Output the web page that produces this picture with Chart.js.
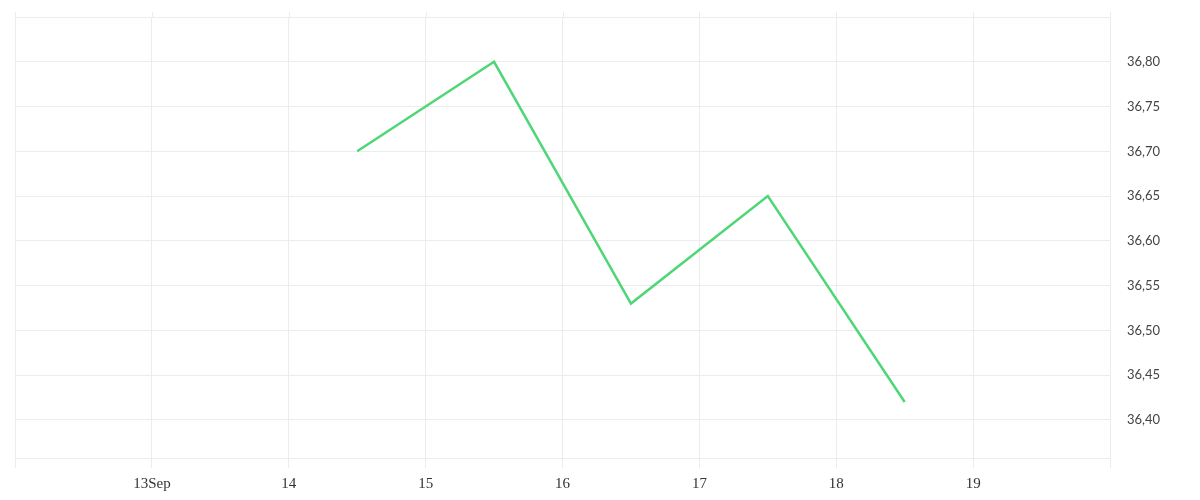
<!DOCTYPE html>
<html>
<head>
<meta charset="utf-8">
<script src="https://cdn.jsdelivr.net/npm/chart.js@4"></script>
<style>
  html, body { margin: 0; padding: 0; background: #fff; }
  #wrap { width: 1200px; height: 500px; }
</style>
</head>
<body>
<div id="wrap"><canvas id="chart"></canvas></div>
<script>
// days of September (noon readings)
const days = [14.5, 15.5, 16.5, 17.5, 18.5];
const values = [36.70, 36.80, 36.53, 36.65, 36.42];

const xTicks = [12, 13, 14, 15, 16, 17, 18, 19, 20];
const xLabels = ['', '13Sep', '14', '15', '16', '17', '18', '19', ''];
const yTicks = [36.40, 36.45, 36.50, 36.55, 36.60, 36.65, 36.70, 36.75, 36.80, 36.85];
const yLabels = ['36,40', '36,45', '36,50', '36,55', '36,60', '36,65', '36,70', '36,75', '36,80', ''];

const gridColor = '#ececec';

// small plugin: lets the vertical grid lines poke a few px above the plot
const gridTop = {
  id: 'gridTop',
  beforeDatasetsDraw(chart) {
    const c = chart.ctx, x = chart.scales.x, top = chart.chartArea.top;
    c.save();
    c.strokeStyle = gridColor;
    c.lineWidth = 1;
    xTicks.forEach(function (t) {
      const px = Math.round(x.getPixelForValue(t)) + 0.5;
      c.beginPath();
      c.moveTo(px, top - 5);
      c.lineTo(px, top);
      c.stroke();
    });
    c.restore();
  }
};

const ctx = document.getElementById('chart');

new Chart(ctx, {
  type: 'line',
  data: {
    datasets: [{
      data: days.map(function (d, i) { return { x: d, y: values[i] }; }),
      borderColor: '#4fd677',
      borderWidth: 2.5,
      pointRadius: 0,
      tension: 0,
      fill: false
    }]
  },
  options: {
    responsive: true,
    maintainAspectRatio: false,
    animation: false,
    layout: { padding: { left: 15, top: 17, right: 0, bottom: 0 } },
    plugins: {
      legend: { display: false },
      tooltip: { enabled: false }
    },
    scales: {
      x: {
        type: 'linear',
        min: 12,
        max: 20,
        afterBuildTicks: function (scale) {
          scale.ticks = xTicks.map(function (v) { return { value: v }; });
        },
        afterFit: function (scale) {
          scale.height = 42;
          scale.paddingLeft = 0;
          scale.paddingRight = 0;
        },
        ticks: {
          autoSkip: false,
          maxRotation: 0,
          padding: 7,
          color: '#333',
          font: { family: 'Liberation Serif', size: 15 },
          callback: function (v) { return xLabels[xTicks.indexOf(v)]; }
        },
        grid: {
          color: gridColor,
          tickColor: gridColor,
          tickLength: 10,
          drawTicks: true
        },
        border: { display: true, color: gridColor }
      },
      y: {
        position: 'right',
        min: 36.3575,
        max: 36.85,
        afterBuildTicks: function (scale) {
          scale.ticks = yTicks.map(function (v) { return { value: v }; });
        },
        afterFit: function (scale) {
          scale.width = 90;
          scale.paddingTop = 0;
          scale.paddingBottom = 0;
        },
        ticks: {
          padding: 17,
          color: '#444',
          font: { family: 'Lato', size: 13 },
          callback: function (v, i) { return yLabels[i]; }
        },
        grid: {
          color: gridColor,
          drawTicks: false
        },
        border: { display: true, color: gridColor }
      }
    }
  },
  plugins: [gridTop]
});
</script>
</body>
</html>
